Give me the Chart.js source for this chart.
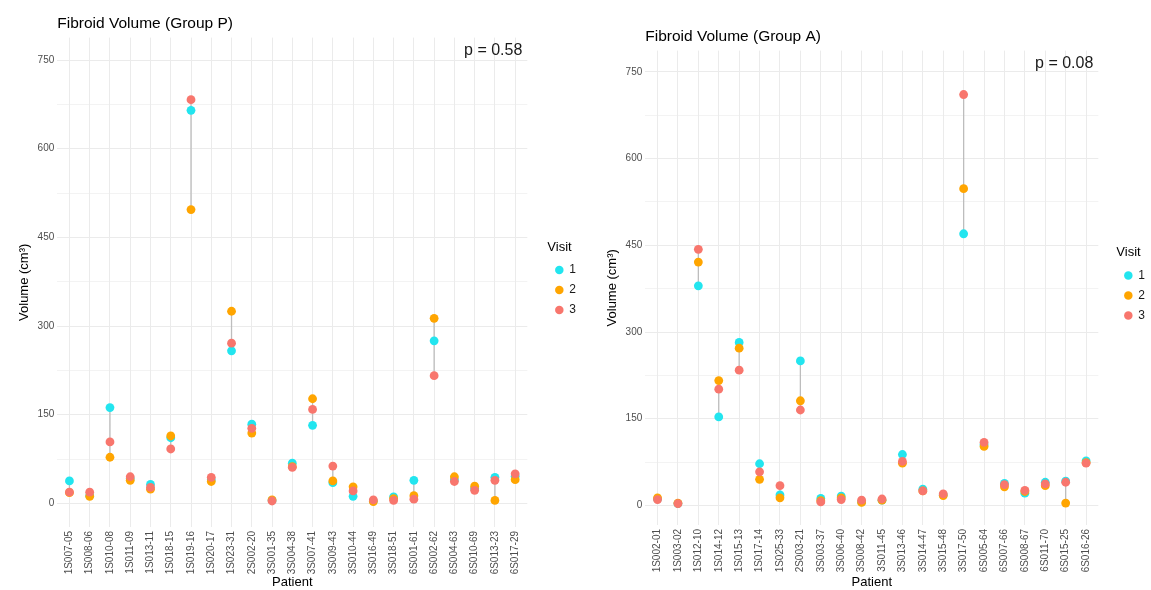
<!DOCTYPE html>
<html>
<head>
<meta charset="utf-8">
<script src="https://cdn.jsdelivr.net/npm/chart.js@4.4.0/dist/chart.umd.min.js"></script>
<style>
  html, body { margin: 0; padding: 0; background: #fff; overflow: hidden; }
  #wrap { position: relative; width: 1151px; height: 590px; overflow: hidden; }
  canvas { position: absolute; top: 0; }
</style>
</head>
<body>
<div id="wrap">
  <canvas id="groupP" width="600" height="590" style="left:0"></canvas>
  <canvas id="groupA" width="600" height="590" style="left:580px"></canvas>
</div>
<script>
// Group P patients and volumes per visit (cm3)
const patientsP = ['1S007-05', '1S008-06', '1S010-08', '1S011-09', '1S013-11', '1S018-15', '1S019-16',
  '1S020-17', '1S023-31', '2S002-20', '3S001-35', '3S004-38', '3S007-41', '3S009-43', '3S010-44',
  '3S016-49', '3S018-51', '6S001-61', '6S002-62', '6S004-63', '6S010-69', '6S013-23', '6S017-29'];
const visit1P = [38, 13, 162, 42, 32, 111, 665, 40, 258, 134, 5, 68, 132, 35, 12, 4, 11, 39, 275, 40, 25, 44, 46];
const visit2P = [18, 12, 78, 39, 24, 114, 497, 37, 325, 119, 6, 62, 177, 38, 28, 3, 8, 13, 313, 45, 29, 5, 40];
const visit3P = [19, 19, 104, 45, 27, 92, 683, 44, 271, 127, 4, 61, 159, 63, 21, 6, 5, 7, 216, 37, 22, 39, 50];

// Group A patients and volumes per visit (cm3)
const patientsA = ['1S002-01', '1S003-02', '1S012-10', '1S014-12', '1S015-13', '1S017-14', '1S025-33',
  '2S003-21', '3S003-37', '3S006-40', '3S008-42', '3S011-45', '3S013-46', '3S014-47', '3S015-48',
  '3S017-50', '6S005-64', '6S007-66', '6S008-67', '6S011-70', '6S015-25', '6S016-26'];
const visit1A = [11, 3, 380, 153, 282, 72, 18, 250, 12, 16, 6, 9, 88, 28, 18, 470, 105, 38, 21, 40, 42, 77];
const visit2A = [13, 4, 421, 216, 272, 45, 13, 181, 8, 13, 5, 9, 73, 25, 17, 548, 102, 32, 24, 34, 4, 74];
const visit3A = [10, 3, 443, 201, 234, 58, 34, 165, 6, 10, 9, 11, 76, 25, 20, 711, 109, 36, 26, 37, 40, 73];

const visitLabels = ['1', '2', '3'];
const yTicks = [0, 150, 300, 450, 600, 750];
const yMinorTicks = [75, 225, 375, 525, 675];

const visitColors = ['#22E5EF', '#FFA500', '#F8766D'];
const fontFamily = '"Liberation Sans", Arial, sans-serif';

// p-value text in the top right corner of the panel
const pLabelPlugin = {
  id: 'pLabel',
  afterDatasetsDraw(chart, args, opts) {
    const { ctx, chartArea } = chart;
    ctx.save();
    ctx.font = '16px ' + fontFamily;
    ctx.fillStyle = '#1a1a1a';
    ctx.textAlign = 'right';
    ctx.textBaseline = 'middle';
    ctx.fillText(opts.text, chartArea.right - 5, chartArea.top + 13);
    ctx.restore();
  }
};

function makePanel(canvasId, cfg) {
  const patients = cfg.patients;
  const visits = cfg.visits;

  // grey segment from lowest to highest visit value of each patient
  const segments = [];
  patients.forEach((p, i) => {
    const vals = visits.map(v => v[i]);
    segments.push({ x: i, y: Math.min(...vals) });
    segments.push({ x: i, y: Math.max(...vals) });
    segments.push({ x: i, y: null });
  });

  const datasets = [{
    type: 'line',
    label: 'range',
    data: segments,
    borderColor: '#bdbdbd',
    borderWidth: 1.3,
    pointRadius: 0,
    showLine: true,
    spanGaps: false,
    order: 4,
    yAxisID: 'y'
  }];
  visits.forEach((values, k) => {
    datasets.push({
      type: 'scatter',
      label: visitLabels[k],
      data: values.map((v, i) => ({ x: i, y: v })),
      backgroundColor: visitColors[k],
      borderColor: visitColors[k],
      borderWidth: 0,
      pointRadius: 4.4,
      pointStyle: 'circle',
      order: 3 - k, // visit 3 painted on top
      yAxisID: 'y'
    });
  });

  new Chart(document.getElementById(canvasId), {
    type: 'scatter',
    data: { datasets: datasets },
    options: {
      responsive: false,
      animation: false,
      events: [],
      layout: { padding: { left: cfg.padLeft, right: cfg.padRight, top: 0, bottom: 0 } },
      scales: {
        x: {
          type: 'linear',
          min: -0.6,
          max: patients.length - 0.4,
          afterBuildTicks: axis => { axis.ticks = patients.map((p, i) => ({ value: i })); },
          afterFit: s => { s.height = cfg.xHeight; },
          ticks: {
            autoSkip: false,
            maxRotation: 90,
            minRotation: 90,
            padding: 4,
            color: '#4d4d4d',
            font: { size: 10, family: fontFamily },
            callback: v => patients[v]
          },
          grid: { color: '#ebebeb', lineWidth: 1, drawTicks: false },
          border: { display: false },
          title: {
            display: true, text: 'Patient', color: '#000',
            font: { size: 13, family: fontFamily }, padding: { top: 0, bottom: 0 }
          }
        },
        y: {
          type: 'linear',
          min: cfg.yMin,
          max: cfg.yMax,
          afterBuildTicks: axis => {
            axis.ticks = yTicks.concat(yMinorTicks).sort((a, b) => a - b).map(v => ({ value: v }));
          },
          ticks: {
            padding: 3,
            color: '#4d4d4d',
            font: { size: 10, family: fontFamily },
            callback: v => (yTicks.includes(v) ? String(v) : '')
          },
          grid: {
            color: '#ebebeb',
            lineWidth: c => (yTicks.includes(c.tick.value) ? 1 : 0.6),
            drawTicks: false
          },
          border: { display: false },
          title: {
            display: true, text: 'Volume (cm³)', color: '#000',
            font: { size: 13, family: fontFamily }, padding: { top: 4, bottom: 2 }
          }
        },
        // empty axis: keeps the gap between the panel and the legend
        gap: {
          type: 'linear',
          position: 'right',
          display: true,
          grid: { display: false },
          ticks: { display: false },
          border: { display: false },
          afterFit: s => { s.width = cfg.gap; }
        }
      },
      plugins: {
        title: {
          display: true,
          text: cfg.title,
          align: 'start',
          fullSize: false,
          color: '#000',
          font: { size: 15.5, weight: 'normal', family: fontFamily },
          padding: { top: cfg.titleTop, bottom: 5 }
        },
        legend: {
          position: 'right',
          align: 'center',
          fullSize: false,
          title: {
            display: true, text: 'Visit', position: 'start', color: '#000',
            font: { size: 13, family: fontFamily }, padding: { top: 0, bottom: 0 }
          },
          labels: {
            usePointStyle: true,
            boxWidth: 8,
            boxHeight: 6,
            padding: 8,
            color: '#1a1a1a',
            font: { size: 12, family: fontFamily },
            filter: item => item.datasetIndex > 0,
            sort: (a, b) => a.datasetIndex - b.datasetIndex
          }
        },
        tooltip: { enabled: false },
        pLabel: { text: cfg.pText }
      }
    },
    plugins: [pLabelPlugin]
  });
}

makePanel('groupP', {
  patients: patientsP,
  visits: [visit1P, visit2P, visit3P],
  title: 'Fibroid Volume (Group P)',
  pText: 'p = 0.58',
  yMin: -40, yMax: 788,
  padLeft: 13, padRight: 14, gap: 20, titleTop: 14, xHeight: 63
});

makePanel('groupA', {
  patients: patientsA,
  visits: [visit1A, visit2A, visit3A],
  title: 'Fibroid Volume (Group A)',
  pText: 'p = 0.08',
  yMin: -34, yMax: 787,
  padLeft: 21, padRight: 25, gap: 18, titleTop: 27, xHeight: 65
});
</script>
</body>
</html>
